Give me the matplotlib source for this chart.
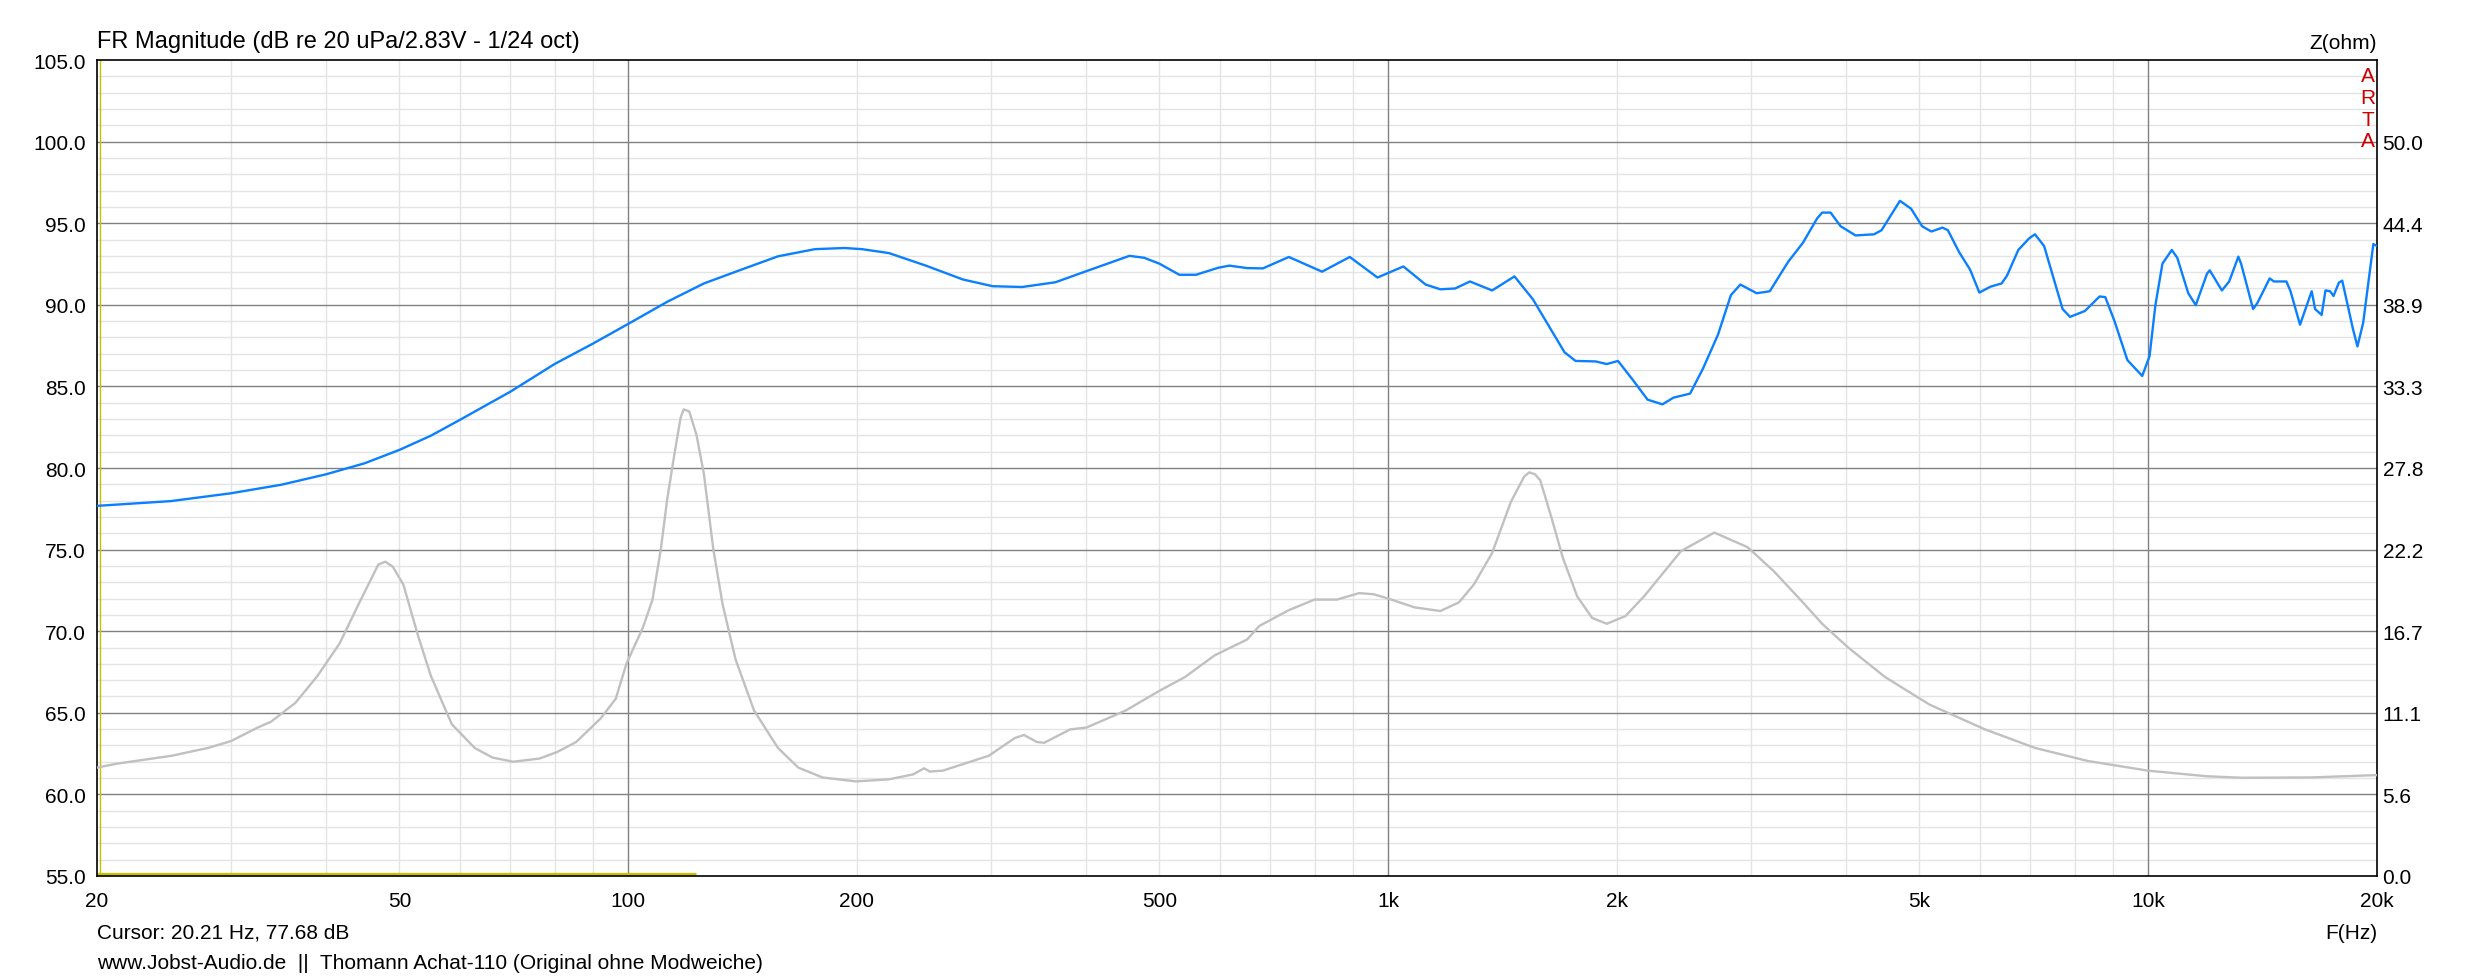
import numpy as np
import matplotlib
matplotlib.use("Agg")
import matplotlib.pyplot as plt

plt.rcParams['font.family'] = ['Liberation Sans', 'DejaVu Sans']

# ---------------- data ----------------
fr_freq = [20, 25, 30, 35, 40, 45, 50, 55, 60, 70, 80, 90, 100, 112.5, 125.8, 140.8,
           157.4, 176.1, 192.6, 203, 220.3, 246.4, 275.7, 301.6, 329.8, 364.8, 399,
           456.6, 477.5, 500, 531, 558.6, 597.5, 618, 652, 684, 740, 818.5, 890, 968,
           1047, 1120, 1171, 1225, 1281, 1370, 1466, 1550, 1640, 1706, 1764, 1875,
           1939, 2006, 2098, 2194, 2295, 2373, 2496, 2597, 2716, 2824, 2906, 3054,
           3177, 3360, 3513, 3667, 3724, 3820, 3939, 4120, 4358, 4458, 4713, 4875,
           5041, 5184, 5360, 5450, 5637, 5830, 5996, 6200, 6414, 6520, 6746, 6975,
           7096, 7295, 7715, 7891, 8254, 8630, 8780, 9026, 9389, 9820, 10040, 10220,
           10440, 10740, 10920, 11290, 11550, 11950, 12050, 12500, 12780, 13140,
           13250, 13740, 13920, 14450, 14630, 15200, 15390, 15840, 16410, 16580,
           16910, 17110, 17350, 17530, 17820, 18000, 18590, 18850, 19180, 19780, 20000]
fr_db = [77.68, 77.97, 78.45, 78.98, 79.61, 80.29, 81.11, 81.98, 82.94, 84.68, 86.37,
         87.64, 88.83, 90.18, 91.31, 92.15, 92.97, 93.41, 93.48, 93.41, 93.17, 92.40,
         91.55, 91.14, 91.09, 91.38, 92.03, 93.00, 92.88, 92.52, 91.84, 91.84, 92.27,
         92.40, 92.25, 92.23, 92.93, 92.03, 92.93, 91.67, 92.35, 91.24, 90.95, 91.00,
         91.43, 90.88, 91.74, 90.34, 88.42, 87.09, 86.56, 86.53, 86.37, 86.56, 85.40,
         84.19, 83.90, 84.31, 84.56, 86.12, 88.17, 90.59, 91.24, 90.71, 90.83, 92.64,
         93.80, 95.29, 95.65, 95.65, 94.81, 94.25, 94.32, 94.57, 96.37, 95.89, 94.81,
         94.49, 94.73, 94.57, 93.24, 92.15, 90.75, 91.11, 91.31, 91.79, 93.36, 94.08,
         94.32, 93.60, 89.74, 89.26, 89.62, 90.51, 90.47, 89.02, 86.61, 85.64, 86.85,
         89.98, 92.52, 93.36, 92.88, 90.71, 89.98, 91.91, 92.11, 90.88, 91.43, 92.95,
         92.52, 89.74, 90.11, 91.62, 91.43, 91.43, 90.83, 88.78, 90.83, 89.74, 89.38,
         90.88, 90.83, 90.54, 91.36, 91.48, 88.54, 87.45, 88.90, 93.72, 93.60]

z_freq = [20, 21.2, 25.1, 28.0, 30.0, 32.4, 33.9, 36.5, 39.0, 41.7, 44.3, 46.9, 47.9,
          49.0, 50.6, 52.9, 55.0, 58.6, 62.8, 66.3, 70.6, 76.5, 80.6, 85.4, 92.0, 96.3,
          99.5, 104.5, 107.6, 110.4, 112.5, 115.0, 117.2, 118.3, 120.3, 123.0, 125.8,
          129.4, 133.1, 138.4, 146.4, 157.4, 167.4, 180.1, 199.2, 220.3, 237.1, 245.1,
          249.3, 259.3, 298.2, 322.5, 331.7, 344.9, 352.7, 381.5, 401, 451.6, 500, 540,
          591, 652, 677, 740, 800, 856, 916, 957, 1000, 1083, 1171, 1239, 1296, 1370,
          1450, 1510, 1533, 1560, 1585, 1640, 1696, 1773, 1855, 1939, 2052, 2170, 2428,
          2686, 2970, 3212, 3475, 3724, 4028, 4507, 5155, 6100, 7096, 8330, 10000,
          11950, 13290, 16350, 20000]
z_ohm = [7.38, 7.64, 8.19, 8.72, 9.18, 10.06, 10.51, 11.80, 13.62, 15.82, 18.63, 21.20,
         21.40, 21.06, 19.84, 16.36, 13.62, 10.33, 8.72, 8.06, 7.78, 8.00, 8.44, 9.12,
         10.73, 12.07, 14.48, 16.89, 18.78, 22.26, 25.60, 28.69, 31.20, 31.77, 31.63,
         30.02, 27.34, 22.26, 18.50, 14.76, 11.27, 8.72, 7.38, 6.71, 6.44, 6.58, 6.92,
         7.33, 7.11, 7.17, 8.19, 9.39, 9.60, 9.12, 9.07, 9.98, 10.11, 11.27, 12.61,
         13.54, 15.02, 16.10, 17.03, 18.10, 18.82, 18.82, 19.26, 19.18, 18.89, 18.29,
         18.04, 18.63, 19.84, 21.99, 25.47, 27.20, 27.48, 27.35, 26.94, 24.40, 21.72,
         19.03, 17.57, 17.17, 17.70, 19.03, 22.12, 23.38, 22.39, 20.78, 18.89, 17.17,
         15.56, 13.54, 11.67, 9.98, 8.72, 7.83, 7.17, 6.79, 6.69, 6.71, 6.87]

x_tick_vals = [20, 50, 100, 200, 500, 1000, 2000, 5000, 10000, 20000]
x_tick_labels = ['20', '50', '100', '200', '500', '1k', '2k', '5k', '10k', '20k']
db_ticks = [55, 60, 65, 70, 75, 80, 85, 90, 95, 100, 105]
z_ticks = [0.0, 5.556, 11.111, 16.667, 22.222, 27.778, 33.333, 38.889, 44.444, 50.0]
z_tick_labels = ['0.0', '5.6', '11.1', '16.7', '22.2', '27.8', '33.3', '38.9', '44.4', '50.0']
cursor_freq = 20.21
marker_span = [20.0, 122.8]
marker_level = 55.15

# ---------------- figure ----------------
W, H = 2473, 978
FS = 15
fig = plt.figure(figsize=(W / 100, H / 100), dpi=100)
fig.patch.set_facecolor('white')
L, R, T, B = 97, 2377, 61, 877
ax = fig.add_axes([L / W, (H - B) / H, (R - L) / W, (B - T) / H])
ax.set_xscale('log')
ax.set_xlim(20, 20000)
ax.set_ylim(55, 105)

# grid
for d in [1, 10, 100, 1000]:
    for m in range(2, 10):
        f = 10 * d * m
        if 20 < f < 20000 and f not in (100, 1000, 10000):
            ax.axvline(f, color='#e4e4e4', lw=1.0, zorder=0)
for f in (100, 1000, 10000):
    ax.axvline(f, color='#808080', lw=1.0, zorder=1)
for y in range(56, 105):
    if y % 5 != 0:
        ax.axhline(y, color='#e4e4e4', lw=1.0, zorder=0)
for y in db_ticks[1:-1]:
    ax.axhline(y, color='#808080', lw=1.0, zorder=1)

ax.set_xticks(x_tick_vals)
ax.set_xticklabels(x_tick_labels)
ax.xaxis.set_minor_locator(matplotlib.ticker.NullLocator())
ax.set_yticks(db_ticks)
ax.set_yticklabels([f'{v:.1f}' for v in db_ticks])
ax.tick_params(axis='x', length=0, pad=11, labelsize=FS)
ax.tick_params(axis='y', length=0, pad=8, labelsize=FS)
for s in ax.spines.values():
    s.set_color('black')
    s.set_linewidth(1.2)

# markers (cursor and range)
ax.axvline(cursor_freq, color='#c8c000', lw=1.0, zorder=2)
ax.plot(marker_span, [marker_level, marker_level], color='#c8c000', lw=2.4,
        solid_capstyle='butt', zorder=2)

# FR curve
ax.plot(fr_freq, fr_db, color='#0a80ff', lw=1.7, zorder=4)

# impedance curve
ax2 = ax.twinx()
ax2.set_ylim(0, 55.5556)
ax2.plot(z_freq, z_ohm, color='#c0c0c0', lw=1.7, zorder=3)
ax2.set_yticks(z_ticks)
ax2.set_yticklabels(z_tick_labels)
ax2.tick_params(axis='y', length=0, pad=4, labelsize=FS)
for s in ax2.spines.values():
    s.set_visible(False)
ax2.set_xlim(20, 20000)

# texts
fig.text(L / W, 1 - 48 / H, 'FR Magnitude (dB re 20 uPa/2.83V - 1/24 oct)',
         ha='left', va='baseline', fontsize=17)
fig.text(R / W, 1 - 49 / H, 'Z(ohm)', ha='right', va='baseline', fontsize=FS)
for i, ch in enumerate('ARTA'):
    fig.text(2368 / W, 1 - (77 + i * 21.5) / H, ch, ha='center', va='center',
             fontsize=FS, color='#cc0000')
fig.text(L / W, 1 - 939 / H, 'Cursor: 20.21 Hz, 77.68 dB', ha='left', va='baseline',
         fontsize=FS)
fig.text(L / W, 1 - 969 / H, 'www.Jobst-Audio.de  ||  Thomann Achat-110 (Original ohne Modweiche)',
         ha='left', va='baseline', fontsize=FS)
fig.text(R / W, 1 - 939 / H, 'F(Hz)', ha='right', va='baseline', fontsize=FS)

fig.savefig('out.png', dpi=100)
